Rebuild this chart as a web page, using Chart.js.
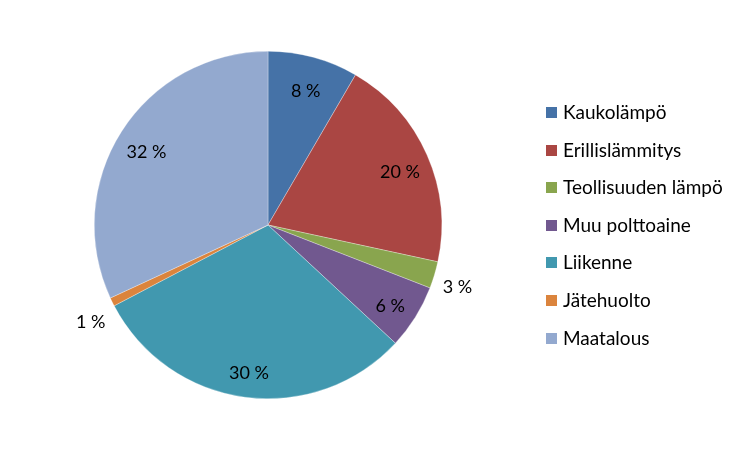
<!DOCTYPE html>
<html>
<head>
<meta charset="utf-8">
<script src="https://cdn.jsdelivr.net/npm/chart.js@4/dist/chart.umd.min.js"></script>
<style>
  body { margin: 0; background: #fff; }
  #wrap { position: relative; width: 750px; height: 450px; }
  #legend { position: absolute; left: 546px; top: 100px; font-family: Lato, "Open Sans", sans-serif; font-size: 19px; color: #000; }
  #legend div { height: 37.6px; display: flex; align-items: flex-start; line-height: 24px; }
  #legend span.box { width: 11px; height: 11px; margin-top: 7px; margin-right: 6px; display: inline-block; }
</style>
</head>
<body>
<div id="wrap">
  <canvas id="chart" width="750" height="450"></canvas>
  <div id="legend"></div>
</div>
<script>
const labels = ['Kaukolämpö', 'Erillislämmitys', 'Teollisuuden lämpö', 'Muu polttoaine', 'Liikenne', 'Jätehuolto', 'Maatalous'];
const values = [8.4, 20.0, 2.5, 6.0, 30.4, 0.8, 31.9];
const colors = ['#4572A7', '#AA4643', '#89A54E', '#71588F', '#4198AF', '#DB843D', '#93A9CF'];

// percent labels drawn on / beside the slices
const pctLabels = {
    id: 'pctLabels',
    afterDatasetsDraw(chart) {
        const ctx = chart.ctx;
        const total = values.reduce((a, b) => a + b, 0);
        ctx.save();
        ctx.font = '18px Lato, "Open Sans", sans-serif';
        ctx.fillStyle = '#000';
        ctx.textAlign = 'center';
        ctx.textBaseline = 'middle';
        chart.getDatasetMeta(0).data.forEach((arc, i) => {
            const mid = (arc.startAngle + arc.endAngle) / 2;
            const pct = Math.round(values[i] / total * 100);
            const outside = values[i] < 5;
            const r = outside ? arc.outerRadius + 24 : arc.outerRadius * 0.83;
            const dy = outside && Math.cos(mid) < 0 ? 10 : 5;
            ctx.fillText(pct + ' %', arc.x + Math.cos(mid) * r, arc.y + Math.sin(mid) * r + dy);
        });
        ctx.restore();
    }
};

new Chart(document.getElementById('chart'), {
    type: 'pie',
    data: {
        labels: labels,
        datasets: [{
            data: values,
            backgroundColor: colors,
            borderColor: 'rgba(255,255,255,0.6)',
            borderWidth: 0.5
        }]
    },
    options: {
        responsive: false,
        animation: false,
        layout: { padding: { left: 94, right: 308, top: 51, bottom: 51 } },
        plugins: {
            legend: { display: false },
            tooltip: { enabled: false }
        }
    },
    plugins: [pctLabels]
});

document.getElementById('legend').innerHTML = labels.map((l, i) =>
    `<div><span class="box" style="background:${colors[i]}"></span>${l}</div>`).join('');
</script>
</body>
</html>
